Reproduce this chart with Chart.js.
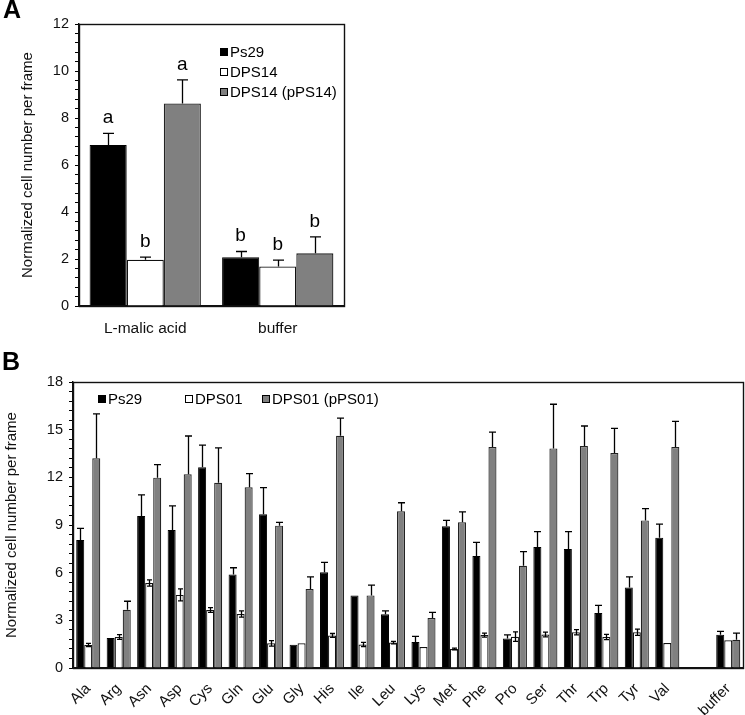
<!DOCTYPE html>
<html>
<head>
<meta charset="utf-8">
<script src="https://cdn.jsdelivr.net/npm/chart.js@4.4.1/dist/chart.umd.min.js"></script>
<style>
    body { margin: 0; background: #fff; width: 745px; height: 715px; position: relative; overflow: hidden; font-family: Arial, "Liberation Sans", sans-serif; }
    .panel-label { position: absolute; font-weight: bold; font-size: 25px; line-height: 25px; color: #000; }
    #chart-a { position: absolute; left: 0; top: 0; }
    #chart-b { position: absolute; left: 0; top: 340px; }
</style>
</head>
<body>
<canvas id="chart-a" width="380" height="340"></canvas>
<canvas id="chart-b" width="745" height="375"></canvas>
<div class="panel-label" style="left:3px; top:-3px;">A</div>
<div class="panel-label" style="left:2px; top:349px;">B</div>
<script>
// Panel A data
const categoriesA = ['L-malic acid', 'buffer'];
const ps29A = [6.85, 2.07];
const ps29AErr = [0.50, 0.25];
const dps14A = [1.97, 1.68];
const dps14AErr = [0.11, 0.27];
const pps14A = [8.62, 2.24];
const pps14AErr = [1.00, 0.70];
const lettersPs29A = ['a', 'b'];
const lettersDps14A = ['b', 'b'];
const lettersPps14A = ['a', 'b'];
const ticksA = [0, 2, 4, 6, 8, 10, 12];

// Panel B data
const categoriesB = ['Ala', 'Arg', 'Asn', 'Asp', 'Cys', 'Gln', 'Glu', 'Gly', 'His', 'Ile', 'Leu',
    'Lys', 'Met', 'Phe', 'Pro', 'Ser', 'Thr', 'Trp', 'Tyr', 'Val', '', 'buffer'];
const ps29B = [8.06, 1.89, 9.57, 8.68, 12.63, 5.89, 9.67, 1.47, 6.02, 4.57, 3.38,
    1.64, 8.92, 7.05, 1.85, 7.61, 7.49, 3.46, 5.06, 8.20, null, 2.10];
const ps29BErr = [0.73, 0, 1.32, 1.52, 1.40, 0.42, 1.68, 0, 0.63, 0, 0.22,
    0.35, 0.37, 0.86, 0.23, 0.97, 1.09, 0.48, 0.67, 0.86, null, 0.21];
const dps01B = [1.45, 1.95, 5.35, 4.60, 3.65, 3.40, 1.55, 1.55, 2.05, 1.48, 1.60,
    1.32, 1.20, 2.07, 1.97, 2.11, 2.25, 1.95, 2.25, 1.57, null, 1.74];
const dps01BErr = [0.10, 0.15, 0.20, 0.38, 0.15, 0.20, 0.17, 0, 0.12, 0.13, 0.08,
    0, 0.05, 0.13, 0.30, 0.15, 0.17, 0.17, 0.20, 0, null, 0];
const pps01B = [13.20, 3.67, 11.98, 12.19, 11.66, 11.37, 8.96, 4.97, 14.62, 4.57, 9.86,
    3.15, 9.17, 13.91, 6.44, 13.82, 13.97, 13.53, 9.29, 13.91, null, 1.78];
const pps01BErr = [2.80, 0.53, 0.82, 2.41, 2.19, 0.86, 0.21, 0.76, 1.11, 0.65, 0.54,
    0.35, 0.65, 0.94, 0.88, 2.78, 1.26, 1.55, 0.74, 1.61, null, 0.42];
const ticksB = [0, 3, 6, 9, 12, 15, 18];

const FONT = 'Arial, "Liberation Sans", sans-serif';
const TITLE = 'Normalized cell number per frame';

// Error bars drawn through the y scale
const errorBars = {
    id: 'errorBars',
    afterDatasetsDraw(chart, args, opts) {
        const ctx = chart.ctx;
        const y = chart.scales.y;
        ctx.save();
        ctx.strokeStyle = '#000';
        ctx.lineWidth = 1.3;
        chart.data.datasets.forEach((ds, i) => {
            const meta = chart.getDatasetMeta(i);
            meta.data.forEach((bar, j) => {
                const v = ds.data[j];
                const e = ds.errors ? ds.errors[j] : 0;
                if (v == null || !e) return;
                const x = Math.round(bar.x) + 0.5;
                const half = (ds.errDown ? opts.capIn : opts.cap) / 2;
                const top = y.getPixelForValue(v + e);
                const bottom = ds.errDown ? y.getPixelForValue(v - e) : y.getPixelForValue(v);
                ctx.beginPath();
                ctx.moveTo(x, bottom);
                ctx.lineTo(x, top);
                ctx.moveTo(x - half, top);
                ctx.lineTo(x + half, top);
                if (ds.errDown) {
                    ctx.moveTo(x - half, bottom);
                    ctx.lineTo(x + half, bottom);
                }
                ctx.stroke();
            });
        });
        ctx.restore();
    }
};

// Significance letters above the error bars
const letterMarks = {
    id: 'letterMarks',
    afterDatasetsDraw(chart) {
        const ctx = chart.ctx;
        const y = chart.scales.y;
        ctx.save();
        ctx.fillStyle = '#000';
        ctx.font = '19px ' + FONT;
        ctx.textAlign = 'center';
        ctx.textBaseline = 'alphabetic';
        chart.data.datasets.forEach((ds, i) => {
            if (!ds.letters) return;
            chart.getDatasetMeta(i).data.forEach((bar, j) => {
                const top = y.getPixelForValue(ds.data[j] + (ds.errors[j] || 0));
                ctx.fillText(ds.letters[j], bar.x, top - 10);
            });
        });
        ctx.restore();
    }
};

// Frame around the plot area
const frameBox = {
    id: 'frameBox',
    afterDraw(chart) {
        const a = chart.chartArea;
        const ctx = chart.ctx;
        ctx.save();
        ctx.strokeStyle = '#111';
        ctx.lineWidth = 1.4;
        ctx.strokeRect(Math.round(a.left) + 0.5, Math.round(a.top) + 0.5,
            Math.round(a.right - a.left), Math.round(a.bottom - a.top));
        ctx.restore();
    }
};

// Square-marker legend
const boxLegend = {
    id: 'boxLegend',
    afterDraw(chart, args, opts) {
        const ctx = chart.ctx;
        ctx.save();
        ctx.font = '15px ' + FONT;
        ctx.textBaseline = 'middle';
        ctx.textAlign = 'left';
        chart.data.datasets.forEach((ds, i) => {
            const p = opts.items[i];
            ctx.fillStyle = ds.backgroundColor;
            ctx.fillRect(p.x, p.y - 4, 8, 8);
            ctx.strokeStyle = '#000';
            ctx.lineWidth = 1;
            ctx.strokeRect(p.x + 0.5, p.y - 3.5, 7, 7);
            ctx.fillStyle = '#000';
            ctx.fillText(ds.label, p.x + 10, p.y + 1);
        });
        ctx.restore();
    }
};

function yAxis(max, step, labels, width, titlePad) {
    return {
        min: 0,
        max: max,
        afterFit: (s) => { s.width = width; },
        ticks: {
            stepSize: step,
            autoSkip: false,
            color: '#111',
            font: { family: FONT, size: 14.5 },
            padding: 6,
            callback: (v) => labels.some(t => Math.abs(t - v) < 1e-6) ? String(Math.round(v)) : ''
        },
        grid: { drawOnChartArea: false, drawTicks: true, tickLength: 4, color: '#000', lineWidth: 1 },
        border: { color: '#111', width: 1.4 },
        title: {
            display: true,
            text: TITLE,
            color: '#111',
            font: { family: FONT, size: 15 },
            padding: { top: titlePad, bottom: 0 }
        }
    };
}

new Chart(document.getElementById('chart-a'), {
    type: 'bar',
    data: {
        labels: categoriesA,
        datasets: [
            { label: 'Ps29', data: ps29A, errors: ps29AErr, letters: lettersPs29A,
              backgroundColor: '#000', borderColor: '#000', borderWidth: 1 },
            { label: 'DPS14', data: dps14A, errors: dps14AErr, letters: lettersDps14A,
              backgroundColor: '#fff', borderColor: '#111', borderWidth: 1.3 },
            { label: 'DPS14 (pPS14)', data: pps14A, errors: pps14AErr, letters: lettersPps14A,
              backgroundColor: '#808080', borderColor: '#222', borderWidth: 1.3 }
        ]
    },
    options: {
        responsive: false,
        animation: false,
        categoryPercentage: 0.84,
        barPercentage: 1,
        layout: { padding: { top: 24, right: 36, left: 0, bottom: 0 } },
        plugins: {
            legend: { display: false },
            tooltip: { enabled: false },
            errorBars: { cap: 11, capIn: 6 },
            boxLegend: { items: [{ x: 220, y: 52 }, { x: 220, y: 72 }, { x: 220, y: 92 }] }
        },
        scales: {
            x: {
                afterFit: (s) => { s.height = 34; },
                grid: { display: false },
                border: { color: '#111', width: 1.4 },
                ticks: { color: '#111', font: { family: FONT, size: 15.5 }, padding: 5 }
            },
            y: yAxis(12, 0.4, ticksA, 79, 19)
        }
    },
    plugins: [errorBars, letterMarks, frameBox, boxLegend]
});

new Chart(document.getElementById('chart-b'), {
    type: 'bar',
    data: {
        labels: categoriesB,
        datasets: [
            { label: 'Ps29', data: ps29B, errors: ps29BErr,
              backgroundColor: '#000', borderColor: '#000', borderWidth: 1 },
            { label: 'DPS01', data: dps01B, errors: dps01BErr, errDown: true,
              backgroundColor: '#fff', borderColor: '#111', borderWidth: 1.2 },
            { label: 'DPS01 (pPS01)', data: pps01B, errors: pps01BErr,
              backgroundColor: '#808080', borderColor: '#222', borderWidth: 1.2 }
        ]
    },
    options: {
        responsive: false,
        animation: false,
        categoryPercentage: 0.79,
        barPercentage: 1,
        layout: { padding: { top: 42, right: 1, left: 0, bottom: 0 } },
        plugins: {
            legend: { display: false },
            tooltip: { enabled: false },
            errorBars: { cap: 7, capIn: 5 },
            boxLegend: { items: [{ x: 98, y: 59 }, { x: 185, y: 59 }, { x: 262, y: 59 }] }
        },
        scales: {
            x: {
                afterFit: (s) => { s.height = 47; },
                grid: { display: false },
                border: { color: '#111', width: 1.4 },
                ticks: { color: '#111', font: { family: FONT, size: 15 }, padding: 4,
                         autoSkip: false, minRotation: 45, maxRotation: 45 }
            },
            y: yAxis(18, 0.6, ticksB, 73, 3)
        }
    },
    plugins: [errorBars, frameBox, boxLegend]
});
</script>
</body>
</html>
